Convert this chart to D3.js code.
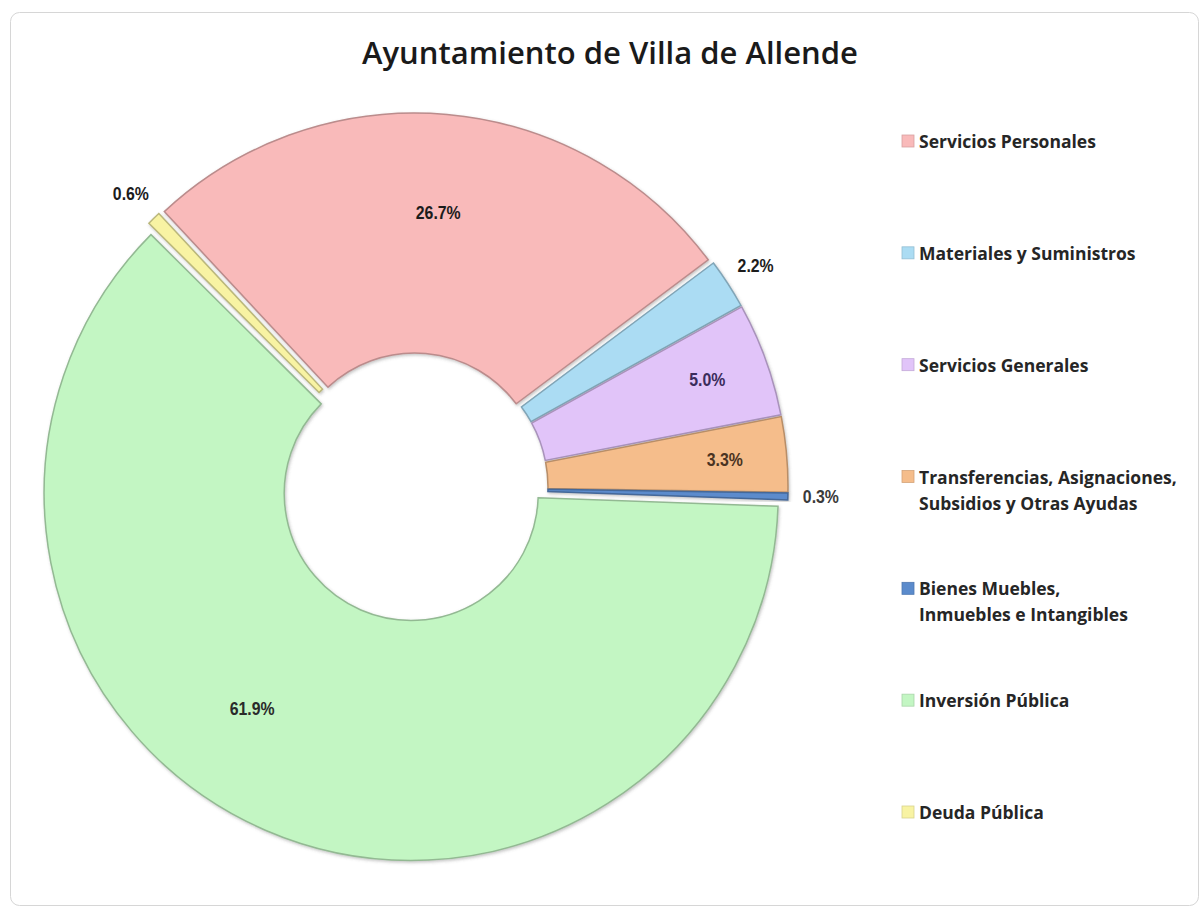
<!DOCTYPE html>
<html>
<head>
<meta charset="utf-8">
<script src="https://cdn.jsdelivr.net/npm/d3@7"></script>
<style>
  body { margin: 0; background: #fff; }
  svg { display: block; }
</style>
</head>
<body>
<div id="chart"></div>
<script>
// Datos del gráfico
const categories = [
  'Servicios Personales',
  'Materiales y Suministros',
  'Servicios Generales',
  'Transferencias, Asignaciones, Subsidios y Otras Ayudas',
  'Bienes Muebles, Inmuebles e Intangibles',
  'Inversión Pública',
  'Deuda Pública'
];
const shares = [26.7, 2.2, 5.0, 3.3, 0.3, 61.9, 0.6];
const legendLines = [
  ['Servicios Personales'],
  ['Materiales y Suministros'],
  ['Servicios Generales'],
  ['Transferencias, Asignaciones,', 'Subsidios y Otras Ayudas'],
  ['Bienes Muebles,', 'Inmuebles e Intangibles'],
  ['Inversión Pública'],
  ['Deuda Pública']
];
const title = 'Ayuntamiento de Villa de Allende';

// Estilos
const palette     = ['#f9baba', '#abdcf3', '#e1c4f9', '#f5bd8b', '#5b8bcc', '#c3f6c3', '#f8f3a3'];
const labelColors = ['#1c1c1c', '#1c1c1c', '#3b2c5c', '#4a3322', '#3a3a3a', '#2a2a2a', '#1c1c1c'];

const W = 1202, H = 914;
const cx = 414, cy = 487, R = 367, r = 127, explode = 7;
const start = -43 * Math.PI / 180;

const svg = d3.select('#chart').append('svg').attr('width', W).attr('height', H);

const defs = svg.append('defs');
const f = defs.append('filter').attr('id', 'sh').attr('x', '-10%').attr('y', '-10%').attr('width', '120%').attr('height', '120%');
f.append('feDropShadow').attr('dx', 1).attr('dy', 1.5).attr('stdDeviation', 1.6)
  .attr('flood-color', '#555').attr('flood-opacity', .35);

// Marco
svg.append('rect').attr('x', 10.5).attr('y', 12.5).attr('width', 1188).attr('height', 893)
  .attr('rx', 9).attr('fill', '#fff').attr('stroke', '#d6d6d6');

// Título
svg.append('text').attr('x', 610).attr('y', 64).attr('text-anchor', 'middle')
  .attr('font-family', 'Open Sans, sans-serif').attr('font-weight', 600).attr('font-size', 31)
  .attr('fill', '#1a1a1a').text(title);

const color = d3.scaleOrdinal().domain(categories).range(palette);
const pie = d3.pie().sort(null).value(d => d).startAngle(start).endAngle(start + 2 * Math.PI);
const arcs = pie(shares);
const arc = d3.arc().innerRadius(r).outerRadius(R);

const mid = d => (d.startAngle + d.endAngle) / 2;
const off = (a, e) => [e * Math.sin(a), -e * Math.cos(a)];

const g = svg.append('g').attr('transform', `translate(${cx},${cy})`);

g.selectAll('path.slice').data(arcs).join('path')
  .attr('class', 'slice')
  .attr('transform', d => `translate(${off(mid(d), explode)})`)
  .attr('d', arc)
  .attr('fill', (d, i) => color(categories[i]))
  .attr('stroke', (d, i) => d3.color(color(categories[i])).darker(0.8))
  .attr('stroke-width', 1.5)
  .attr('filter', 'url(#sh)');

// Etiquetas: pequeñas por fuera, el resto dentro del sector
g.selectAll('text.lbl').data(arcs).join('text')
  .attr('class', 'lbl')
  .attr('transform', d => {
    const v = d.data;
    let a = mid(d);
    if (v > 50) a += 13 * Math.PI / 180; // la etiqueta grande va algo girada
    const rad = v < 3 ? 400 : (v > 20 ? 268 : 305);
    const [ox, oy] = off(mid(d), explode);
    const [lx, ly] = off(a, rad);
    return `translate(${ox + lx},${oy + ly}) scale(0.88,1)`;
  })
  .attr('text-anchor', 'middle').attr('dominant-baseline', 'central')
  .attr('font-family', 'Liberation Sans, Arial, sans-serif')
  .attr('font-weight', 700)
  .attr('font-size', 18)
  .attr('fill', (d, i) => labelColors[i])
  .text(d => d.data.toFixed(1) + '%');

// Leyenda
const ly = d3.scalePoint().domain(categories).range([141, 812]);
const leg = svg.append('g').attr('font-family', 'Open Sans, sans-serif')
  .attr('font-weight', 700).attr('font-size', 17.5).attr('fill', '#262626');

categories.forEach((c, i) => {
  const y = ly(c);
  leg.append('rect').attr('x', 902).attr('y', y - 6).attr('width', 12).attr('height', 12)
    .attr('fill', color(c)).attr('stroke', d3.color(color(c)).darker(0.4)).attr('stroke-width', .8);
  legendLines[i].forEach((t, k) => {
    leg.append('text').attr('x', 919).attr('y', y + k * 26)
      .attr('dominant-baseline', 'central').text(t);
  });
});
</script>
</body>
</html>
